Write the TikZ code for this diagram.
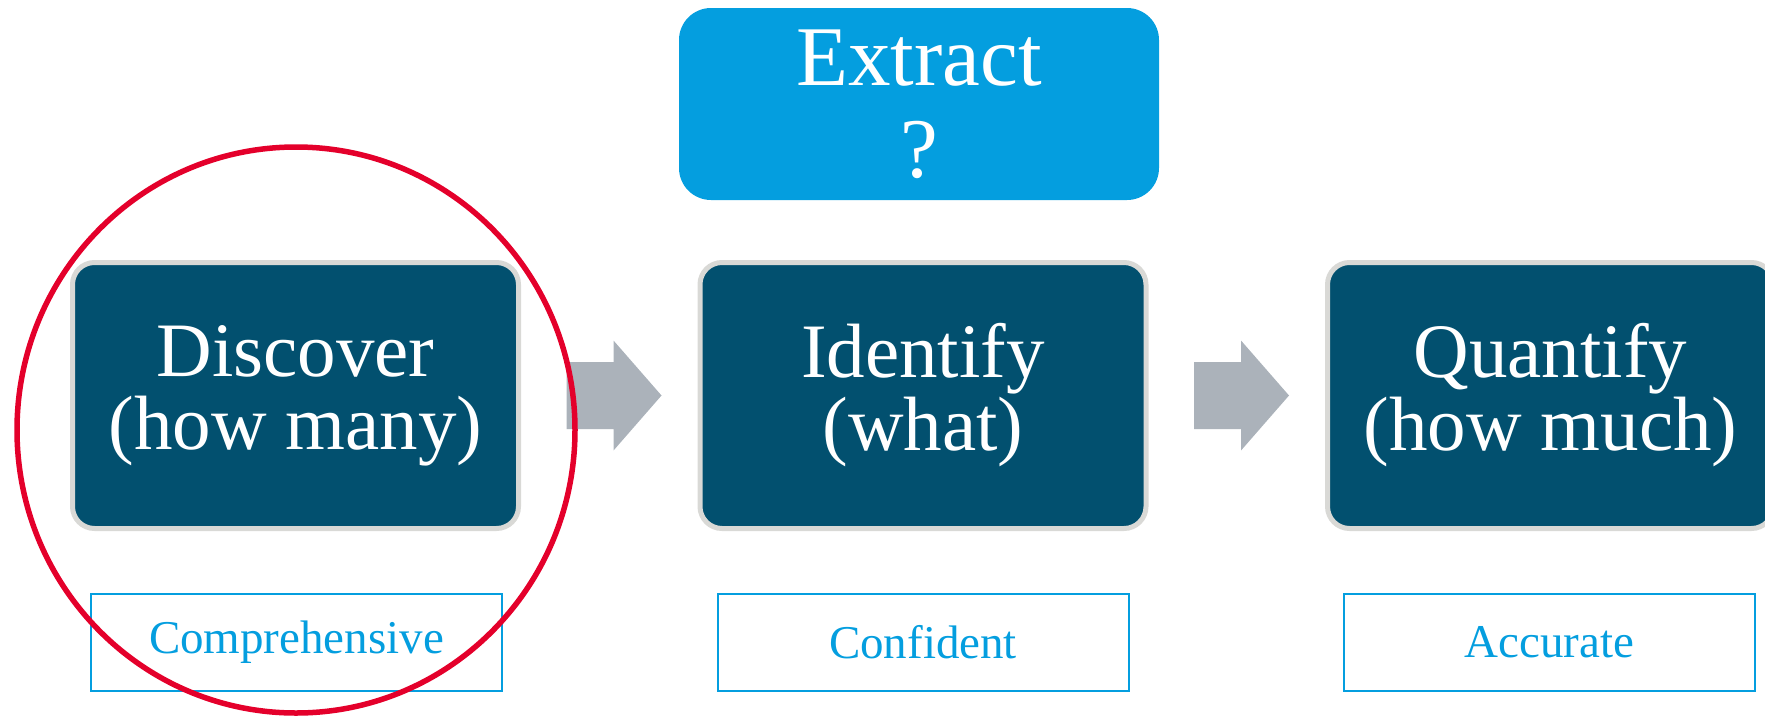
\documentclass[tikz,border=0pt]{standalone}
\usepackage{fontspec}
\setmainfont{Liberation Serif}
\usetikzlibrary{calc}
\definecolor{stepblue}{HTML}{02506F}
\definecolor{stepedge}{HTML}{D9D9D6}
\definecolor{skyblue}{HTML}{049EDF}
\definecolor{arrowgray}{HTML}{ABB2BA}
\definecolor{ringred}{HTML}{E4002B}
\tikzset{
  stagebox/.style={rounded corners=22pt, fill=stepblue, draw=stepedge, line width=5pt,
    minimum width=446pt, minimum height=266pt, inner sep=0pt, align=center,
    text=white, font=\fontsize{77}{73}\selectfont},
  topbox/.style={rounded corners=32pt, fill=skyblue, minimum width=480pt, minimum height=192pt,
    inner sep=0pt, align=center, text=white, font=\fontsize{85}{92}\selectfont},
  qualbox/.style={draw=skyblue, line width=2pt, minimum width=411pt, minimum height=97pt,
    inner sep=0pt, text=skyblue, font=\fontsize{47}{50}\selectfont},
  blockarrow/.style={fill=arrowgray, draw=none},
  ring/.style={draw=ringred, line width=5.5pt}
}
\begin{document}
\begin{tikzpicture}[x=1pt, y=-1pt]
  \useasboundingbox (0,0) rectangle (1765,718);
  \begin{scope}
    \clip (0,0) rectangle (1765,718);
    % top step
    \node[topbox] (extract) at (919,104) {Extract\\?};
    % the three stages
    \node[stagebox] (discover) at (295.5,395.5) {Discover\\(how many)};
    \node[stagebox] (identify) at (923,395.5) {Identify\\(what)};
    \node[stagebox] (quantify) at (1550.5,395.5) {Quantify\\(how much)};
    % qualities
    \node[qualbox] (comp) at (296.5,642.5) {Comprehensive};
    \node[qualbox] (conf) at (923,642.5) {Confident};
    \node[qualbox] (accu) at (1549.5,642.5) {Accurate};
    % block arrows between the stages
    \path[blockarrow] ($(discover.east)+(45.5,-33.5)$) -- ++(47,0) -- ++(0,-21.5)
      -- ++(48,55) -- ++(-48,55) -- ++(0,-21.5) -- ++(-47,0) -- cycle;
    \path[blockarrow] ($(identify.east)+(45.5,-33.5)$) -- ++(47,0) -- ++(0,-21.5)
      -- ++(48,55) -- ++(-48,55) -- ++(0,-21.5) -- ++(-47,0) -- cycle;
    % highlight ring
    \draw[ring] (296,430) ellipse [x radius=279, y radius=283];
  \end{scope}
\end{tikzpicture}
\end{document}
